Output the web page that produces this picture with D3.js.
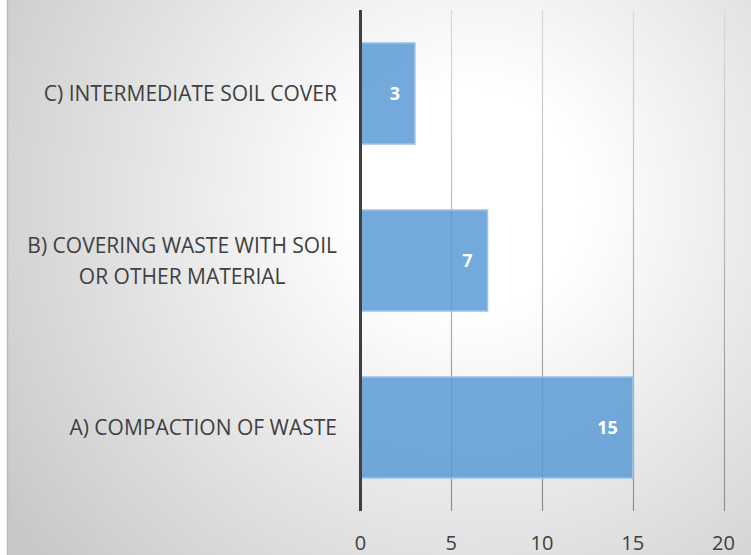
<!DOCTYPE html>
<html>
<head>
<meta charset="utf-8">
<script src="https://cdn.jsdelivr.net/npm/d3@7"></script>
<style>
  html, body { margin: 0; padding: 0; background: #fff; }
  svg { display: block; }
</style>
</head>
<body>
<div id="chart"></div>
<script>
// chart data
var categories = ["C) INTERMEDIATE SOIL COVER", "B) COVERING WASTE WITH SOIL|OR OTHER MATERIAL", "A) COMPACTION OF WASTE"];
var values = [3, 7, 15];
var xTicks = [0, 5, 10, 15, 20];

(function () {
  'use strict';

  var width = 751, height = 555;
  var svg = d3.select("#chart")
  .append("svg")
  .attr("width", width)
  .attr("height", height);

  var defs = svg.append("defs");

  // radial background like the office chart style
  var bg = defs.append("radialGradient")
  .attr("id", "bg")
  .attr("gradientUnits", "userSpaceOnUse")
  .attr("cx", 470).attr("cy", 200).attr("r", 560);
  bg.append("stop").attr("offset", "0%").attr("stop-color", "#ffffff");
  bg.append("stop").attr("offset", "20%").attr("stop-color", "#ffffff");
  bg.append("stop").attr("offset", "100%").attr("stop-color", "#c8c8c8");

  // gridlines get darker towards the bottom
  var gg = defs.append("linearGradient")
  .attr("id", "grid")
  .attr("gradientUnits", "userSpaceOnUse")
  .attr("x1", 0).attr("y1", 10).attr("x2", 0).attr("y2", 511);
  gg.append("stop").attr("offset", "0%").attr("stop-color", "#dadada");
  gg.append("stop").attr("offset", "100%").attr("stop-color", "#8e8e8e");

  svg.append("rect")
  .attr("x", 7).attr("y", 0)
  .attr("width", width - 7).attr("height", height)
  .style("fill", "url(#bg)");

  svg.append("line")
  .attr("x1", 7.5).attr("x2", 7.5)
  .attr("y1", 0).attr("y2", height)
  .style("stroke", "#bdbdbd")
  .style("stroke-width", 1.5);

  var x = d3.scaleLinear().domain([0, 20]).range([360.5, 723.5]);
  var y = d3.scaleBand()
  .domain(categories)
  .range([10, 511])
  .paddingInner(0.395)
  .paddingOuter(0.1975);

  // grid
  svg.append("g")
  .selectAll("line")
  .data(xTicks.filter(function (d) { return d > 0; }))
  .enter().append("line")
  .attr("x1", function (d) { return Math.round(x(d)) + 0.5; })
  .attr("x2", function (d) { return Math.round(x(d)) + 0.5; })
  .attr("y1", 10).attr("y2", 511)
  .style("stroke", "url(#grid)")
  .style("stroke-width", 1.2);

  // bars
  svg.append("g")
  .selectAll("rect")
  .data(values)
  .enter().append("rect")
  .attr("x", x(0))
  .attr("y", function (d, i) { return y(categories[i]); })
  .attr("width", function (d) { return x(d) - x(0); })
  .attr("height", y.bandwidth())
  .style("fill", "#5b9bd5")
  .style("fill-opacity", 0.85)
  .style("stroke", "#9dc3e6")
  .style("stroke-width", 1.5);

  // value labels
  svg.append("g")
  .selectAll("text")
  .data(values)
  .enter().append("text")
  .attr("x", function (d) { return x(d) - 15; })
  .attr("y", function (d, i) { return y(categories[i]) + y.bandwidth() / 2; })
  .attr("dy", "0.36em")
  .attr("text-anchor", "end")
  .style("font-family", "'Open Sans', sans-serif")
  .style("font-weight", "bold")
  .style("font-size", "18px")
  .style("fill", "#ffffff")
  .text(function (d) { return d; });

  // category labels, wrapped ones centred on each other
  var labelRight = 337;
  categories.forEach(function (c) {
    var lines = c.split("|");
    var g = svg.append("text")
    .style("font-family", "'Open Sans', sans-serif")
    .style("font-size", "21px")
    .style("fill", "#404040");
    var cy = y(c) + y.bandwidth() / 2;
    var lh = 31;
    lines.forEach(function (l, i) {
      g.append("tspan")
      .attr("y", cy + (i - (lines.length - 1) / 2) * lh)
      .attr("dy", "0.36em")
      .text(l);
    });
    var spans = g.selectAll("tspan");
    var maxW = d3.max(spans.nodes(), function (n) { return n.getComputedTextLength(); });
    spans.attr("x", labelRight - maxW / 2).attr("text-anchor", "middle");
  });

  // x tick labels
  svg.append("g")
  .selectAll("text")
  .data(xTicks)
  .enter().append("text")
  .attr("x", function (d) { return x(d); })
  .attr("y", 543)
  .attr("dy", "0.36em")
  .attr("text-anchor", "middle")
  .style("font-family", "'Open Sans', sans-serif")
  .style("font-size", "20px")
  .style("fill", "#404040")
  .text(function (d) { return d; });

  // vertical category axis
  svg.append("line")
  .attr("x1", x(0)).attr("x2", x(0))
  .attr("y1", 10).attr("y2", 511)
  .style("stroke", "#404040")
  .style("stroke-width", 3);
})();
</script>
</body>
</html>
